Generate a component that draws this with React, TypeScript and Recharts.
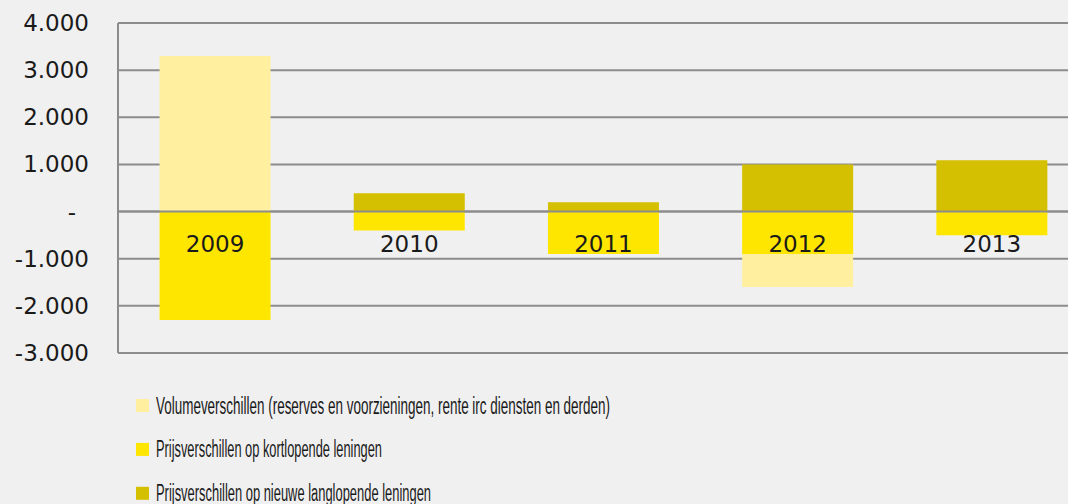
import React from "react";
import { BarChart, Bar, XAxis, YAxis, CartesianGrid, ReferenceLine, LabelList } from "recharts";

const years = ["2009", "2010", "2011", "2012", "2013"];
const volumeDiff = [3300, 0, 0, -700, 0];
const shortLoanDiff = [-2300, -400, -900, -900, -500];
const longLoanDiff = [0, 390, 200, 1000, 1090];
const yTicks = [-3000, -2000, -1000, 0, 1000, 2000, 3000, 4000];

const legendNames = [
  "Volumeverschillen (reserves en voorzieningen, rente irc diensten en derden)",
  "Prijsverschillen op kortlopende leningen",
  "Prijsverschillen op nieuwe langlopende leningen",
];
const legendWidths = [454, 226, 275];

const LIGHT = "#ffef9f";
const YELLOW = "#ffe600";
const DARK = "#d4c000";
const GRID = "#8c8c8c";
const TEXT = "#1a1a1a";
const legendColors = [LIGHT, YELLOW, DARK];

const data = years.map((year, i) => ({
  year,
  volume: volumeDiff[i],
  short: shortLoanDiff[i],
  long: longLoanDiff[i],
}));

// excel style: 1.000 and a dash for zero
const formatTick = (v: number) => (v === 0 ? "-" : v.toLocaleString("nl-NL"));

const YTick = (props: any) => {
  const { x, y, payload } = props;
  const isZero = payload.value === 0;
  return (
    <text
      x={isZero ? x - 13 : x}
      y={y}
      dy="0.35em"
      textAnchor="end"
      fill={TEXT}
      fontSize={23}
      fontFamily="'DejaVu Sans', Verdana, sans-serif"
    >
      {formatTick(payload.value)}
    </text>
  );
};

// year label sits just under the zero line, the short-loan bar always starts there
const YearLabel = (props: any) => {
  const { x, y, width, height, value } = props;
  const zeroY = Math.min(y, y + height);
  return (
    <text
      x={x + width / 2}
      y={zeroY + 40}
      textAnchor="middle"
      fill={TEXT}
      fontSize={23}
      fontFamily="'DejaVu Sans', Verdana, sans-serif"
    >
      {value}
    </text>
  );
};

const App = () => {
  return (
    <div
      style={{
        position: "absolute",
        left: 0,
        top: 0,
        width: 1068,
        height: 504,
        overflow: "hidden",
        background: "#f0f0f0",
      }}
    >
      <BarChart
        width={1089}
        height={504}
        data={data}
        stackOffset="sign"
        barCategoryGap="21.4%"
        margin={{ top: 23, right: 0, bottom: 151, left: 0 }}
      >
        <CartesianGrid vertical={false} stroke={GRID} strokeWidth={2} />
        <XAxis dataKey="year" hide />
        <YAxis
          width={118}
          domain={[-3000, 4000]}
          ticks={yTicks}
          interval={0}
          tickSize={0}
          tickMargin={29}
          tickLine={false}
          axisLine={{ stroke: GRID, strokeWidth: 2 }}
          tick={<YTick />}
        />
        <Bar dataKey="short" stackId="a" fill={YELLOW} isAnimationActive={false}>
          <LabelList dataKey="year" content={<YearLabel />} />
        </Bar>
        <Bar dataKey="volume" stackId="a" fill={LIGHT} isAnimationActive={false} />
        <Bar dataKey="long" stackId="a" fill={DARK} isAnimationActive={false} />
        <ReferenceLine y={0} stroke={GRID} strokeWidth={2} />
      </BarChart>
      <svg
        width={1068}
        height={504}
        style={{ position: "absolute", left: 0, top: 0, pointerEvents: "none" }}
      >
        {legendNames.map((name, i) => {
          const cy = 405.5 + i * 43.9;
          return (
            <g key={name}>
              <rect x={136} y={cy - 6.5} width={13} height={13} fill={legendColors[i]} />
              <text
                x={156}
                y={cy + 8}
                fontSize={23}
                fill={TEXT}
                fontFamily="'Liberation Sans Narrow', 'Liberation Sans', Arial, sans-serif"
                textLength={legendWidths[i]}
                lengthAdjust="spacingAndGlyphs"
              >
                {name}
              </text>
            </g>
          );
        })}
      </svg>
    </div>
  );
};

export default App;
